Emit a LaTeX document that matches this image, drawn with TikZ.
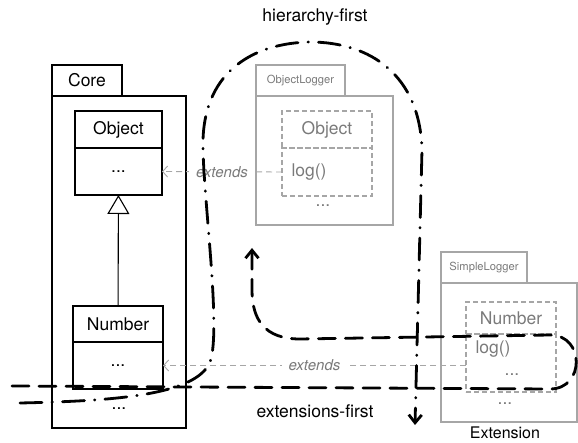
\documentclass[tikz,border=0pt]{standalone}
\usepackage{fontspec}
\setmainfont{TeX Gyre Heros}
\usetikzlibrary{arrows.meta,positioning}
\definecolor{pale}{HTML}{A6A6A6}
\definecolor{paletext}{HTML}{7A7A7A}
\begin{document}
\begin{tikzpicture}[x=1pt,y=-1pt,
    box/.style={draw,inner sep=0pt,outer sep=0pt,line width=1.1pt,anchor=north west},
    ghost/.style={box,draw=pale,text=paletext},
    dbox/.style={ghost,dash pattern=on 5pt off 3pt},
    big/.style={font=\fontsize{17.5}{20}\selectfont},
    small/.style={font=\fontsize{11.2}{13}\selectfont},
    ext/.style={draw=pale,line width=0.9pt,dash pattern=on 6pt off 4pt,-{Straight Barb[length=5pt,width=11pt]}},
    extlabel/.style={fill=white,text=paletext,inner sep=7pt,font=\fontsize{15}{17}\selectfont\itshape},
    hier/.style={line width=2.8pt,line cap=round,dash pattern=on 22pt off 10pt on 0.5pt off 10pt,-{Straight Barb[length=8pt,width=13pt]}},
    extfirst/.style={line width=2.8pt,line cap=round,dash pattern=on 17pt off 10pt,-{Straight Barb[length=8pt,width=13pt]}}]
  \useasboundingbox (0,0) rectangle (578,443);
  \node[big] (hlabel) at (315,17) {hierarchy-first};
  \node[big] (elabel) at (315,411) {extensions-first};
  \node[box,big,minimum width=70pt,minimum height=31pt] (coretab) at (52,65) {Core};
  \node[box,minimum width=134pt,minimum height=332pt] (core) at (52,96) {};
  \node[big] (coredots) at (119,409) {...};
  \node[box,big,minimum width=87pt,minimum height=37pt] (objname) at (75,111) {Object};
  \node[box,big,minimum width=87pt,minimum height=47pt,below=0pt of objname] (objbody) {...};
  \node[box,big,minimum width=90pt,minimum height=36pt] (numname) at (73,306) {Number};
  \node[box,big,minimum width=90pt,minimum height=47pt,below=0pt of numname] (numbody) {...};
  \draw[line width=1.1pt,-{Triangle[open,length=19pt,width=22pt]}] (numname) -- (objbody);
  \node[ghost,small,minimum width=89pt,minimum height=31pt] (ologtab) at (256,65) {ObjectLogger};
  \node[ghost,minimum width=137pt,minimum height=129pt] (olog) at (256,96) {};
  \node[dbox,big,minimum width=90pt,minimum height=37pt] (objdname) at (282,111) {Object};
  \node[dbox,minimum width=90pt,minimum height=48pt,below=0pt of objdname] (objdbody) {};
  \node[big,text=paletext,anchor=west] (objlog) at ([xshift=6pt]objdbody.west) {log()};
  \node[big,text=paletext] (ologdots) at (323,206) {...};
  \node[ghost,small,minimum width=86pt,minimum height=31pt] (slogtab) at (441,252) {SimpleLogger};
  \node[ghost,minimum width=136pt,minimum height=139pt] (slog) at (441,283) {};
  \node[dbox,big,minimum width=90pt,minimum height=32pt] (numdname) at (466,302) {Number};
  \node[dbox,minimum width=90pt,minimum height=58pt,below=0pt of numdname] (numdbody) {};
  \node[big,text=paletext,anchor=west] (numlog) at (472,349) {log()};
  \node[big,text=paletext] (numddots) at (512,375) {...};
  \node[big,text=paletext] (slogdots) at (505,404) {...};
  \node[font=\fontsize{16}{18}\selectfont] (extension) at (505,433) {Extension};
  \draw[ext] (objdbody.west) -- node[extlabel] {extends} (objbody.east);
  \draw[ext] (numbody.east -| numdbody.west) -- node[extlabel] {extends} (numbody.east);
  \coordinate (hstart) at (20,403);
  \coordinate (hend) at (415,425);
  \coordinate (estart) at (12,386);
  \coordinate (eend) at (252,248);
  \draw[hier] (hstart) .. controls (110,401) and (196,396) .. (210,362)
    .. controls (222,330) and (202,190) .. (203,140)
    .. controls (205,70) and (255,43) .. (310,42)
    .. controls (370,42) and (420,75) .. (422,150) -- (hend);
  \draw[extfirst] (estart) -- (550,389) .. controls (585,389) and (585,335) .. (550,335)
    -- (300,339) .. controls (265,339) and (252,320) .. (252,290) -- (eend);
\end{tikzpicture}
\end{document}
